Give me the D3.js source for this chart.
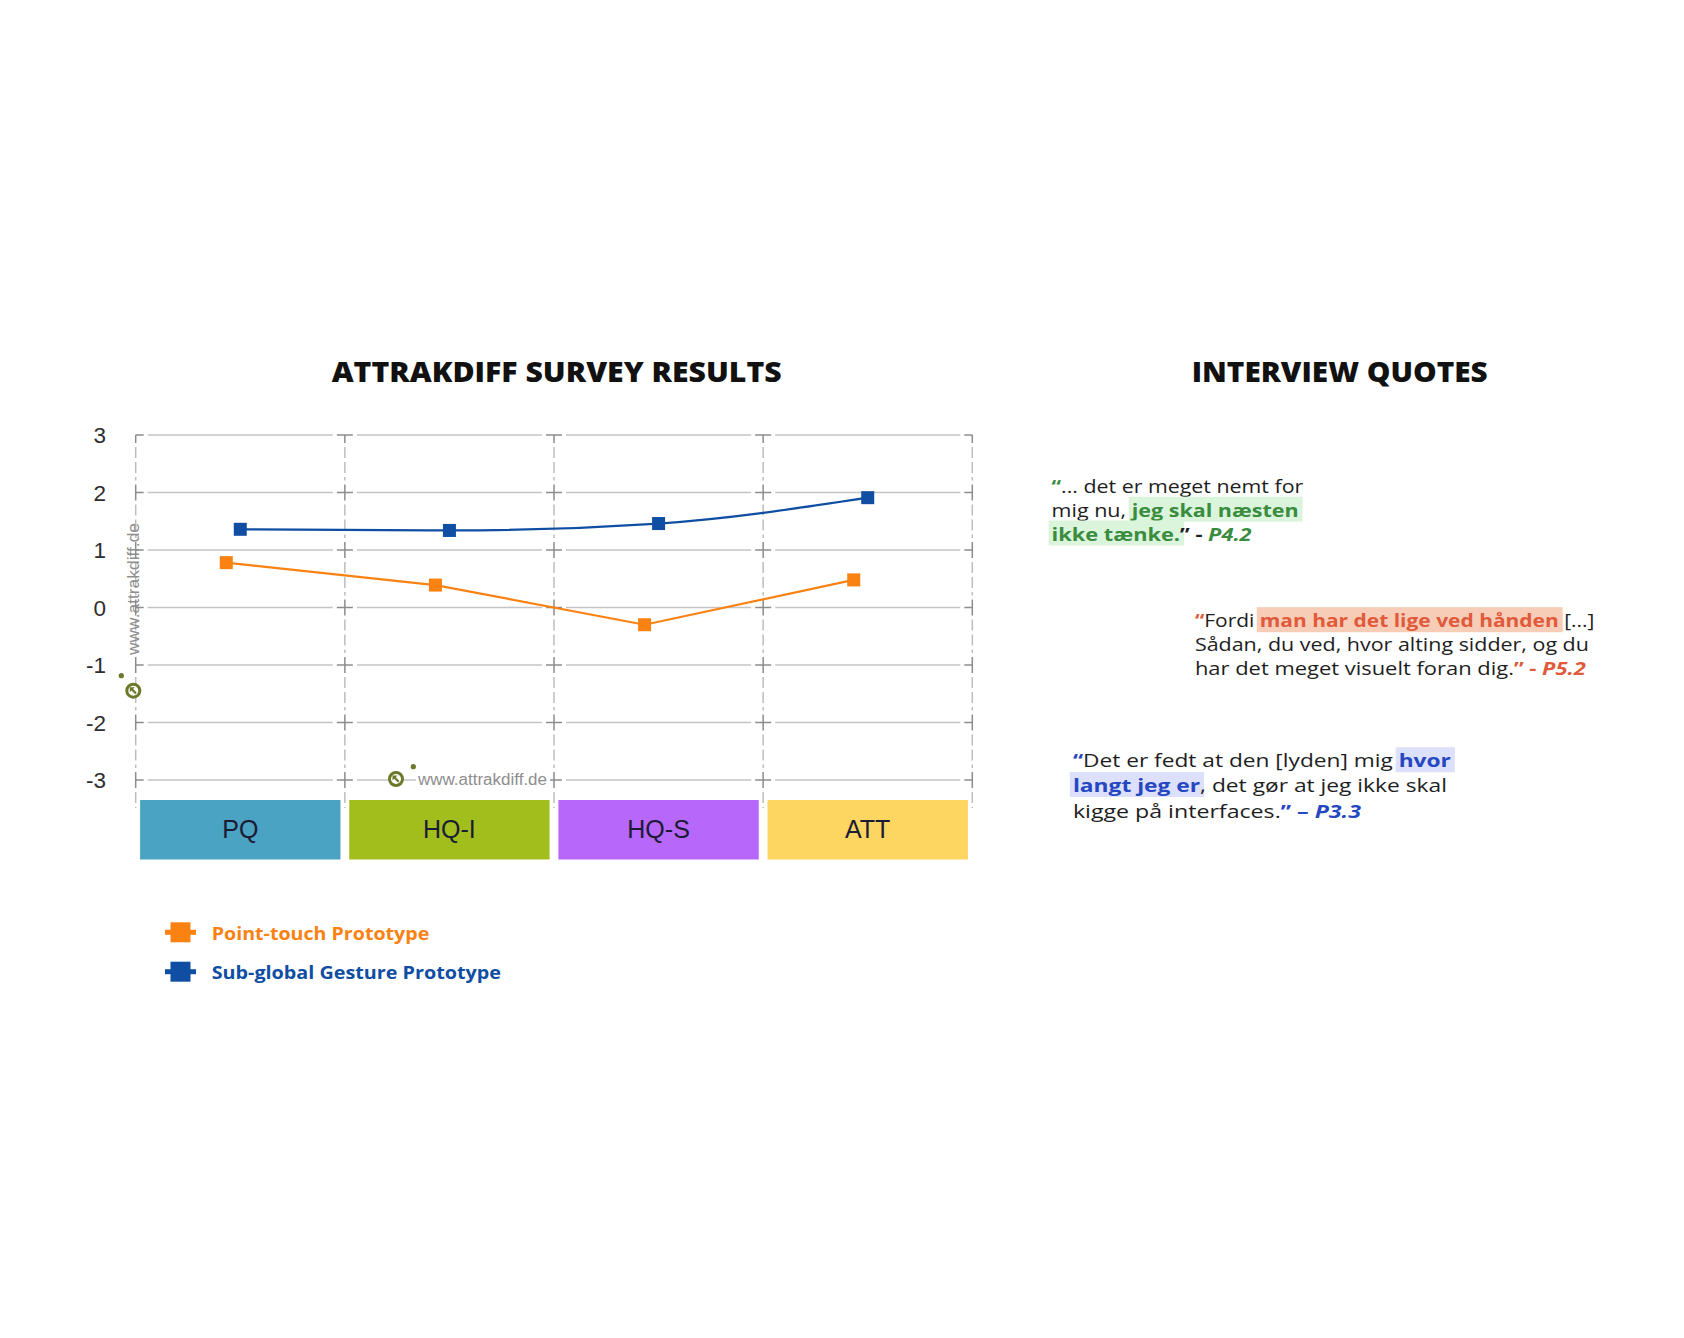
<!DOCTYPE html>
<html><head><meta charset="utf-8">
<script src="https://cdn.jsdelivr.net/npm/d3@7"></script>
<style>body{margin:0;background:#fff} svg{display:block}</style>
</head><body>
<svg id="c" width="1684" height="1338"></svg>
<script>
// ---------- data ----------
const categories = ["PQ", "HQ-I", "HQ-S", "ATT"];
const pointTouch = [0.78, 0.39, -0.30, 0.48];
const subGlobal  = [1.36, 1.34, 1.46, 1.91];
const yTicks = [3, 2, 1, 0, -1, -2, -3];
const seriesNames = ["Point-touch Prototype", "Sub-global Gesture Prototype"];
const categoryColors = ["#4BA3C3", "#A2BE1C", "#B767FA", "#FDD561"];
const seriesColors = ["#FA8212", "#0F4EA3"];
const watermark = "www.attrakdiff.de";

// ---------- setup ----------
const svg = d3.select("#c");
const SANS = "'Liberation Sans', Arial, sans-serif";
const TITLE = "'Open Sans', 'DejaVu Sans', sans-serif";

const x = d3.scaleBand().domain(categories).range([135.7, 972.3]).paddingInner(0).paddingOuter(0);
const y = d3.scaleLinear().domain([-3, 3]).range([780, 435]);
const bw = x.bandwidth();
const xs = categories.map(c => x(c)).concat([x.range()[1]]);

// titles
svg.append("text").attr("x", 331.7).attr("y", 381.7)
  .attr("font-family", TITLE).attr("font-weight", 800).attr("font-size", 28)
  .attr("textLength", 450).attr("lengthAdjust", "spacingAndGlyphs")
  .attr("fill", "#111").text("ATTRAKDIFF SURVEY RESULTS");
svg.append("text").attr("x", 1191.7).attr("y", 382)
  .attr("font-family", TITLE).attr("font-weight", 800).attr("font-size", 28)
  .attr("textLength", 296).attr("lengthAdjust", "spacingAndGlyphs")
  .attr("fill", "#111").text("INTERVIEW QUOTES");

// ---------- grid ----------
const grid = svg.append("g");
const gap = 12, tk = 8;
yTicks.forEach(t => {
  for (let i = 0; i < xs.length - 1; i++) {
    grid.append("line").attr("x1", xs[i] + gap).attr("x2", xs[i + 1] - gap)
      .attr("y1", y(t)).attr("y2", y(t))
      .attr("stroke", "#c4c4c4").attr("stroke-width", 1.6);
  }
});
xs.forEach(xv => {
  for (let j = 0; j < yTicks.length - 1; j++) {
    grid.append("line").attr("x1", xv).attr("x2", xv)
      .attr("y1", y(yTicks[j]) + gap).attr("y2", y(yTicks[j + 1]) - gap)
      .attr("stroke", "#bdbdbd").attr("stroke-width", 1.5).attr("stroke-dasharray", "11,4");
  }
  grid.append("line").attr("x1", xv).attr("x2", xv)
    .attr("y1", y(-3) + gap).attr("y2", 808)
    .attr("stroke", "#bdbdbd").attr("stroke-width", 1.5).attr("stroke-dasharray", "11,4");
});
yTicks.forEach(t => {
  xs.forEach((xv, i) => {
    const yy = y(t);
    const x1 = i > 0 ? xv - tk : xv, x2 = i < xs.length - 1 ? xv + tk : xv;
    const y1 = t < 3 ? yy - tk : yy, y2 = yy + tk;
    grid.append("line").attr("x1", x1).attr("x2", x2).attr("y1", yy).attr("y2", yy)
      .attr("stroke", "#8c8c8c").attr("stroke-width", 1.5);
    grid.append("line").attr("x1", xv).attr("x2", xv).attr("y1", y1).attr("y2", y2)
      .attr("stroke", "#8c8c8c").attr("stroke-width", 1.5);
  });
});

// y labels
svg.append("g").selectAll("text").data(yTicks).join("text")
  .attr("x", 106).attr("y", d => y(d) + 8)
  .attr("text-anchor", "end").attr("font-family", SANS).attr("font-size", 22.5)
  .attr("fill", "#2e2e2e").text(d => d);

// category boxes
const cat = svg.append("g").selectAll("g").data(categories).join("g");
cat.append("rect").attr("x", d => x(d) + 4.4).attr("width", bw - 8.8)
  .attr("y", 800).attr("height", 59.5)
  .attr("fill", (d, i) => categoryColors[i]);
cat.append("text").attr("x", d => x(d) + bw / 2).attr("y", 837.5)
  .attr("text-anchor", "middle").attr("font-family", SANS).attr("font-size", 25)
  .attr("fill", "#1b1b33").text(d => d);

// watermarks
function logo(cx, cy, dx, dy) {
  const g = svg.append("g").attr("transform", `translate(${cx},${cy})`);
  g.append("circle").attr("r", 6.5).attr("fill", "#fff").attr("stroke", "#6a7a2a").attr("stroke-width", 3);
  g.append("path").attr("d", "M-3.5,-3.5 L1.5,-3.5 L-0.2,-1.8 L3.5,1.9 L1.9,3.5 L-1.8,-0.2 L-3.5,1.5 Z").attr("fill", "#6a7a2a");
  g.append("circle").attr("cx", dx).attr("cy", dy).attr("r", 2.6).attr("fill", "#6a7a2a");
}
logo(133.3, 690.7, -12, -15);
svg.append("text").attr("transform", "translate(138.5,655) rotate(-90)")
  .attr("font-family", SANS).attr("font-size", 16).attr("fill", "#8e8e8e")
  .attr("textLength", 132).attr("lengthAdjust", "spacingAndGlyphs").text(watermark);
logo(396, 779, 17.3, -12.3);
svg.append("rect").attr("x", 416).attr("y", 770).attr("width", 134).attr("height", 19).attr("fill", "#fff");
svg.append("text").attr("x", 418).attr("y", 784.5)
  .attr("font-family", SANS).attr("font-size", 16).attr("fill", "#8e8e8e")
  .attr("textLength", 129).attr("lengthAdjust", "spacingAndGlyphs").text(watermark);

// ---------- series ----------
const series = [
  { name: seriesNames[0], values: pointTouch, color: seriesColors[0], dx: -14, curve: d3.curveLinear },
  { name: seriesNames[1], values: subGlobal, color: seriesColors[1], dx: 0, curve: d3.curveMonotoneX }
];
series.forEach(s => {
  const pts = categories.map((c, i) => [x(c) + bw / 2 + s.dx, y(s.values[i])]);
  const line = d3.line().curve(s.curve);
  svg.append("path").attr("d", line(pts)).attr("fill", "none")
    .attr("stroke", s.color).attr("stroke-width", 2.2);
  svg.append("g").selectAll("rect").data(pts).join("rect")
    .attr("x", d => d[0] - 6.5).attr("y", d => d[1] - 6.5)
    .attr("width", 13).attr("height", 13).attr("fill", s.color);
});

// legend
const legendY = [932.3, 971.7];
const legendW = [217.6, 289.3];
series.forEach((s, i) => {
  const g = svg.append("g").attr("transform", `translate(0,${legendY[i]})`);
  g.append("line").attr("x1", 165).attr("x2", 196).attr("stroke", s.color).attr("stroke-width", 5);
  g.append("rect").attr("x", 170.5).attr("y", -10).attr("width", 20).attr("height", 20).attr("fill", s.color);
  g.append("text").attr("x", 211.7).attr("y", 7.5)
    .attr("font-family", TITLE).attr("font-weight", 700).attr("font-size", 18.5)
    .attr("textLength", legendW[i]).attr("lengthAdjust", "spacingAndGlyphs")
    .attr("fill", s.color).text(s.name);
});

// ---------- quotes ----------
const QFONT = "'Open Sans'";
const QSIZE = 18.5;
const quotes = [
  { x: 1051.6, color: "#3a8c3e", bg: "#dbf4dc", lines: [
    { y: 493.3, w: 251.7, parts: [["“", "b"], ["... det er meget nemt for", "n"]] },
    { y: 516.7, w: 247, parts: [["mig nu, ", "n"], ["jeg skal næsten", "h"]] },
    { y: 540.5, w: 200, parts: [["ikke tænke.", "h"], ["” - ", "d"], ["P4.2", "i"]] }
  ]},
  { x: 1194.9, color: "#e05a3b", bg: "#f7cdb8", lines: [
    { y: 627.2, w: 399.5, parts: [["“", "b"], ["Fordi ", "n"], ["man har det lige ved hånden", "h"], [" [...]", "n"]] },
    { y: 651.2, w: 394, parts: [["Sådan, du ved, hvor alting sidder, og du", "n"]] },
    { y: 675.2, w: 391, parts: [["har det meget visuelt foran dig.", "n"], ["” - ", "b"], ["P5.2", "i"]] }
  ]},
  { x: 1072.9, color: "#2547c2", bg: "#dde0fb", lines: [
    { y: 767.2, w: 378, parts: [["“", "b"], ["Det er fedt at den [lyden] mig ", "n"], ["hvor", "h"]] },
    { y: 792, w: 374, parts: [["langt jeg er", "h"], [", det gør at jeg ikke skal", "n"]] },
    { y: 817.5, w: 288, parts: [["kigge på interfaces.", "n"], ["” – ", "b"], ["P3.3", "i"]] }
  ]}
];
const ctx = document.createElement("canvas").getContext("2d");
function fontFor(type) {
  const w = type === "n" ? 400 : 700;
  const st = type === "i" ? "italic" : "normal";
  return `${st} ${w} ${QSIZE}px ${QFONT}`;
}
const qg = svg.append("g");
quotes.forEach(q => {
  q.lines.forEach(L => {
    const widths = L.parts.map(p => { ctx.font = fontFor(p[1]); return ctx.measureText(p[0]).width; });
    const total = d3.sum(widths);
    const k = L.w / total;
    let off = 0;
    L.parts.forEach((p, i) => {
      if (p[1] === "h") {
        qg.append("rect").attr("x", q.x + off * k - 3).attr("y", L.y - 20)
          .attr("width", widths[i] * k + 7).attr("height", 25).attr("fill", q.bg);
      }
      off += widths[i];
    });
    const t = qg.append("text").attr("x", q.x).attr("y", L.y)
      .attr("font-family", QFONT).attr("font-size", QSIZE)
      .attr("textLength", L.w).attr("lengthAdjust", "spacingAndGlyphs");
    L.parts.forEach(p => {
      const ts = t.append("tspan").text(p[0]);
      const type = p[1];
      ts.attr("font-weight", type === "n" ? 400 : 700)
        .attr("font-style", type === "i" ? "italic" : "normal")
        .attr("fill", type === "n" || type === "d" ? "#1e1e1e" : q.color);
    });
  });
});
</script>
</body></html>
